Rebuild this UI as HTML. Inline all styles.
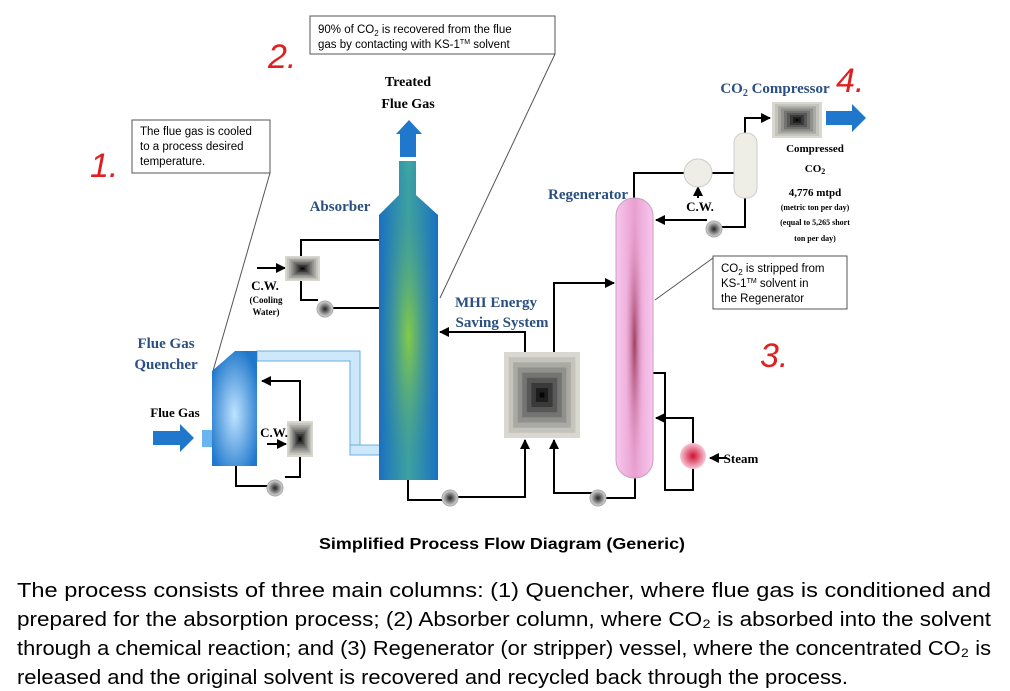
<!DOCTYPE html>
<html><head><meta charset="utf-8"><style>
html,body{margin:0;padding:0;background:#fff;}
svg{display:block;}
.s{font-family:"Liberation Serif",serif;font-weight:bold;}
.a{font-family:"Liberation Sans",sans-serif;}
</style></head><body>
<svg width="1010" height="691" viewBox="0 0 1010 691" xmlns="http://www.w3.org/2000/svg">
<defs>
<symbol id="sq" viewBox="0 0 100 100" preserveAspectRatio="none">
<rect x="0" y="0" width="100" height="100" fill="#d8d8d0"/>
<rect x="6" y="6" width="88" height="88" fill="#c4c4bc"/>
<rect x="12" y="12" width="76" height="76" fill="#aaaaa4"/>
<rect x="18" y="18" width="64" height="64" fill="#90908c"/>
<rect x="24" y="24" width="52" height="52" fill="#747472"/>
<rect x="30" y="30" width="40" height="40" fill="#585858"/>
<rect x="36" y="36" width="28" height="28" fill="#3a3a3a"/>
<rect x="42" y="42" width="16" height="16" fill="#1e1e1e"/>
<rect x="47" y="47" width="6" height="6" fill="#050505"/>
</symbol>
<linearGradient id="absH" x1="0" x2="1"><stop offset="0" stop-color="#1a6fc0"/><stop offset="0.5" stop-color="#3fa8a0"/><stop offset="1" stop-color="#1a6fc0"/></linearGradient>
<radialGradient id="absG" cx="50%" cy="55%" r="55%"><stop offset="0" stop-color="#8ccf3c" stop-opacity="0.9"/><stop offset="1" stop-color="#1a6fc0" stop-opacity="0"/></radialGradient>
<radialGradient id="q" cx="50%" cy="55%" r="60%"><stop offset="0" stop-color="#bfe3ff"/><stop offset="1" stop-color="#1f78cc"/></radialGradient>
<linearGradient id="reg" x1="0" x2="1"><stop offset="0" stop-color="#f8c8ee"/><stop offset="0.5" stop-color="#e8a0d0"/><stop offset="1" stop-color="#f8c8ee"/></linearGradient>
<radialGradient id="regC" cx="50%" cy="52%" r="50%" gradientTransform="translate(0.5 0.52) scale(0.5 1) translate(-0.5 -0.52)"><stop offset="0" stop-color="#a04060"/><stop offset="1" stop-color="#e8a0d0" stop-opacity="0"/></radialGradient>
<radialGradient id="pump" cx="50%" cy="50%" r="50%"><stop offset="0" stop-color="#222"/><stop offset="1" stop-color="#ddd"/></radialGradient>
<radialGradient id="steam" cx="50%" cy="50%" r="50%"><stop offset="0" stop-color="#d01030"/><stop offset="1" stop-color="#f8c8d8"/></radialGradient>
<marker id="ar" viewBox="0 0 10 10" refX="9" refY="5" markerWidth="5" markerHeight="5" orient="auto"><path d="M0,0L10,5L0,10z" fill="#000"/></marker>
</defs>
<g fill="none" stroke="#000" stroke-width="2">
<polyline points="300,421 300,381 262,381" marker-end="url(#ar)"/>
<polyline points="300,457 300,477 285,477"/>
<polyline points="236,466 236,486 268,486"/>
<line x1="267" y1="444" x2="286" y2="444" marker-end="url(#ar)"/>
<polyline points="379,240 301,240 301,258"/>
<polyline points="301,280 301,300 318,300"/>
<line x1="332" y1="308" x2="379" y2="308"/>
<line x1="257" y1="268" x2="285" y2="268" marker-end="url(#ar)"/>
<polyline points="408,480 408,500 443,500"/>
<polyline points="458,497 525,497 525,440" marker-end="url(#ar)"/>
<polyline points="525,352 525,332 440,332" marker-end="url(#ar)"/>
<polyline points="554,352 554,283 614,283" marker-end="url(#ar)"/>
<polyline points="592,493 554,493 554,440" marker-end="url(#ar)"/>
<polyline points="606,498 635,498 635,478"/>
<polyline points="634,198 634,173 684,173"/>
<line x1="712" y1="173" x2="735" y2="173"/>
<line x1="698" y1="198" x2="698" y2="187" marker-end="url(#ar)"/>
<polyline points="745,198 745,227 722,227"/>
<line x1="707" y1="220" x2="656" y2="220" marker-end="url(#ar)"/>
<polyline points="745,133 745,118 770,118" marker-end="url(#ar)"/>
<polyline points="653,373 665,373 665,490 693,490 693,468"/>
<polyline points="693,444 693,418 656,418" marker-end="url(#ar)"/>
<line x1="727" y1="458" x2="710" y2="458" marker-end="url(#ar)"/>
</g>
<g stroke="#555" stroke-width="1" fill="#fff">
<line x1="270" y1="173" x2="213" y2="371"/>
<line x1="555" y1="54" x2="440" y2="298"/>
<line x1="655" y1="300" x2="713" y2="258"/>
<rect x="132" y="120" width="138" height="53"/>
<rect x="310" y="16" width="245" height="38"/>
<rect x="713" y="256" width="134" height="53"/>
</g>
<g class="a" font-size="11.5" fill="#000">
<text x="140" y="135">The flue gas is cooled</text>
<text x="140" y="150">to a process desired</text>
<text x="140" y="165">temperature.</text>
<text x="318" y="33">90% of CO<tspan font-size="8" dy="3">2</tspan><tspan dy="-3"> is recovered from the flue</tspan></text>
<text x="318" y="48">gas by contacting with KS-1<tspan font-size="7" dy="-4">TM</tspan><tspan dy="4"> solvent</tspan></text>
<text x="721" y="272">CO<tspan font-size="8" dy="3">2</tspan><tspan dy="-3"> is stripped from</tspan></text>
<text x="721" y="287">KS-1<tspan font-size="7" dy="-4">TM</tspan><tspan dy="4">  solvent in</tspan></text>
<text x="721" y="302">the Regenerator</text>
</g>
<rect x="202" y="430" width="11" height="17" fill="#6ab4f0"/>
<path d="M153,431H180V424L194,438L180,452V445H153Z" fill="#1f78cc"/>
<path d="M257,351H360V445H350V361H257Z" fill="#cde8fa" stroke="#6ab0e0" stroke-width="1"/>
<rect x="350" y="445" width="30" height="10" fill="#cde8fa" stroke="#6ab0e0" stroke-width="1"/>
<path d="M235,351H257V466H212V371Z" fill="url(#q)"/>
<path d="M409,120L422,134H416V157H400V134H396Z" fill="#1f78cc"/>
<path d="M399,161H416V195L438,215V480H379V215L399,195Z" fill="url(#absH)"/>
<path d="M399,161H416V195L438,215V480H379V215L399,195Z" fill="url(#absG)"/>
<use href="#sq" x="287" y="421" width="26" height="36"/>
<use href="#sq" x="285" y="256" width="35" height="25"/>
<use href="#sq" x="504" y="352" width="76" height="86"/>
<use href="#sq" x="772" y="102" width="50" height="36"/>
<path d="M826,111H852V104L866,118L852,132V125H826Z" fill="#1f78cc"/>
<g fill="url(#pump)" stroke="#aaa">
<circle cx="275" cy="488" r="8"/><circle cx="325" cy="309" r="8"/>
<circle cx="450" cy="498" r="8"/><circle cx="598" cy="498" r="8"/>
<circle cx="714" cy="229" r="8"/>
</g>
<rect x="616" y="198" width="37" height="280" rx="18" fill="url(#reg)" stroke="#c8a0c0"/>
<rect x="616" y="198" width="37" height="280" rx="18" fill="url(#regC)"/>
<circle cx="698" cy="173" r="14" fill="#eeeee6" stroke="#ccc"/>
<rect x="734" y="133" width="23" height="65" rx="10" fill="#eeeee6" stroke="#ccc"/>
<circle cx="693" cy="456" r="13" fill="url(#steam)"/>
<g class="s" fill="#2a4f80" font-size="15" text-anchor="middle">
<text x="340" y="211">Absorber</text>
<text x="166" y="348">Flue Gas</text><text x="166" y="369">Quencher</text>
<text x="496" y="307">MHI Energy</text><text x="502" y="327">Saving System</text>
<text x="588" y="199">Regenerator</text>
<text x="775" y="93">CO<tspan font-size="10" dy="3">2</tspan><tspan dy="-3"> Compressor</tspan></text>
</g>
<g class="s" fill="#000" text-anchor="middle">
<text x="408" y="86" font-size="14">Treated</text>
<text x="408" y="108" font-size="14">Flue Gas</text>
<text x="175" y="417" font-size="13">Flue Gas</text>
<text x="274" y="437" font-size="13">C.W.</text>
<text x="265" y="290" font-size="13">C.W.</text>
<text x="266" y="303" font-size="9">(Cooling</text>
<text x="266" y="315" font-size="9">Water)</text>
<text x="700" y="211" font-size="13">C.W.</text>
<text x="741" y="463" font-size="13">Steam</text>
<text x="815" y="152" font-size="11">Compressed</text>
<text x="815" y="172" font-size="11">CO<tspan font-size="8" dy="2">2</tspan></text>
<text x="815" y="196" font-size="11">4,776 mtpd</text>
<text x="815" y="210" font-size="8">(metric ton per day)</text>
<text x="815" y="225" font-size="8">(equal to 5,265 short</text>
<text x="815" y="241" font-size="8">ton per day)</text>
</g>
<g fill="#e02020" font-family="Liberation Sans,sans-serif" font-size="34" font-style="italic">
<text x="90" y="177">1.</text>
<text x="268" y="68">2.</text>
<text x="760" y="367">3.</text>
<text x="836" y="92">4.</text>
</g>
<g class="a" fill="#000">
<text x="502" y="549" font-size="16" font-weight="bold" text-anchor="middle" textLength="366" lengthAdjust="spacingAndGlyphs">Simplified Process Flow Diagram (Generic)</text>
<g font-size="20">
<text x="17" y="597" textLength="974" lengthAdjust="spacingAndGlyphs">The  process  consists  of  three  main  columns:  (1)  Quencher,  where  flue  gas  is  conditioned  and</text>
<text x="17" y="626" textLength="974" lengthAdjust="spacingAndGlyphs">prepared for the absorption process; (2) Absorber column, where CO₂ is absorbed into the solvent</text>
<text x="17" y="655" textLength="974" lengthAdjust="spacingAndGlyphs">through a chemical reaction; and (3) Regenerator (or stripper) vessel, where the concentrated CO₂ is</text>
<text x="17" y="684" textLength="831" lengthAdjust="spacingAndGlyphs">released and the original solvent is recovered and recycled back through the process.</text>
</g>
</g>
</svg>
</body></html>
